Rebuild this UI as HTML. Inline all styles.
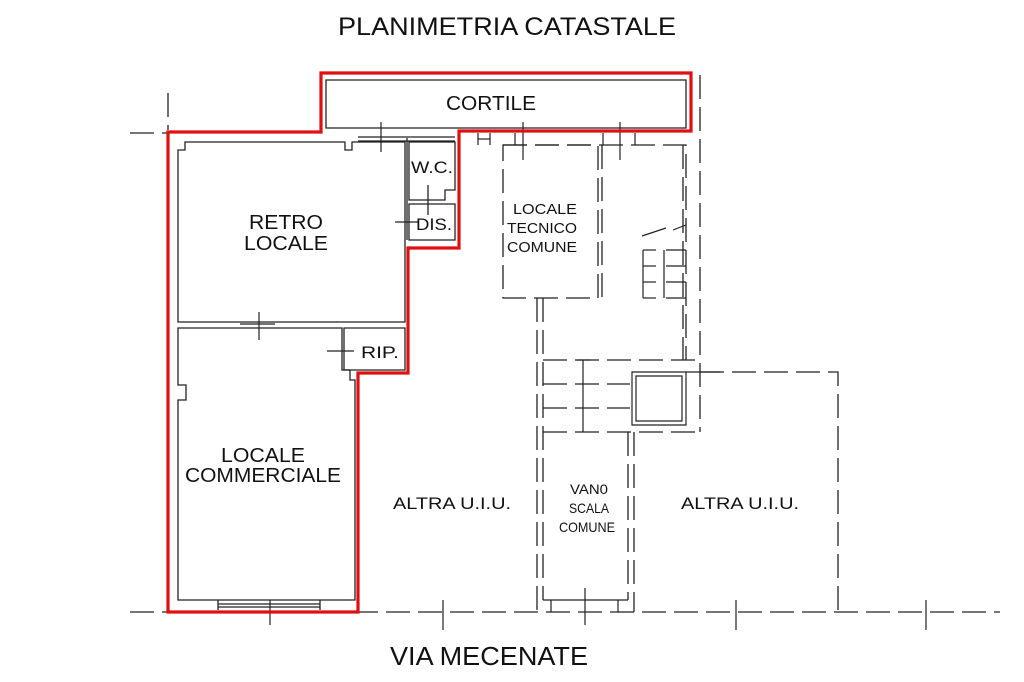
<!DOCTYPE html>
<html><head><meta charset="utf-8"><style>
html,body{margin:0;padding:0;background:#fff;}
svg{display:block;}
text{font-family:"Liberation Sans",sans-serif;fill:#111;}
</style></head><body>
<svg width="1024" height="682" viewBox="0 0 1024 682" xmlns="http://www.w3.org/2000/svg">
<g fill="none" stroke="#222" stroke-width="1.3">
<g stroke-dasharray="24,8">
<line x1="130" y1="612" x2="1000" y2="612"/>
<line x1="130" y1="133" x2="167" y2="133"/>
<line x1="168" y1="93" x2="168" y2="130"/>
<line x1="700" y1="75" x2="700" y2="432"/>
<path d="M503 145 H598 V298 H503 Z"/>
<line x1="602" y1="145" x2="602" y2="298"/>
<path d="M503 145 H686 V360"/>
<line x1="537" y1="298" x2="537" y2="612"/>
<line x1="543" y1="298" x2="543" y2="600"/>
<line x1="683" y1="145" x2="683" y2="360"/>
<line x1="543" y1="360" x2="700" y2="360"/>
<line x1="543" y1="384" x2="630" y2="384"/>
<line x1="543" y1="408" x2="630" y2="408"/>
<line x1="543" y1="432" x2="700" y2="432"/>
<line x1="628" y1="432" x2="628" y2="600"/>
<line x1="634" y1="432" x2="634" y2="612"/>
<path d="M700 372 H838 V612"/>
</g>
<g stroke-width="1.2">
<path d="M632 372 H686 V425 H632 Z"/>
<path d="M636 376 H682 V421 H636 Z"/>
<line x1="583" y1="360" x2="583" y2="432"/>
<line x1="577" y1="360" x2="590" y2="360"/>
<line x1="643" y1="250" x2="643" y2="298"/>
<line x1="643" y1="250" x2="656" y2="250"/>
<line x1="643" y1="266" x2="656" y2="266"/>
<line x1="643" y1="282" x2="656" y2="282"/>
<line x1="643" y1="298" x2="656" y2="298"/>
<line x1="666" y1="250" x2="686" y2="250"/>
<line x1="666" y1="266" x2="686" y2="266"/>
<line x1="666" y1="282" x2="686" y2="282"/>
<line x1="666" y1="298" x2="686" y2="298"/>
<line x1="664" y1="250" x2="664" y2="298"/>
<line x1="642" y1="236" x2="666" y2="228"/>
<line x1="673" y1="230" x2="686" y2="225"/>
<line x1="543" y1="600" x2="628" y2="600"/>
<line x1="551" y1="600" x2="551" y2="612"/>
<line x1="618" y1="600" x2="618" y2="612"/>
</g>
<g stroke-width="1.2">
<line x1="381" y1="122" x2="381" y2="152"/>
<line x1="523" y1="122" x2="523" y2="160"/>
<line x1="620" y1="122" x2="620" y2="160"/>
<line x1="259" y1="312" x2="259" y2="340"/>
<line x1="270" y1="600" x2="270" y2="625"/>
<line x1="443" y1="600" x2="443" y2="630"/>
<line x1="585" y1="588" x2="585" y2="625"/>
<line x1="736" y1="600" x2="736" y2="630"/>
<line x1="926" y1="600" x2="926" y2="630"/>
<line x1="686" y1="372" x2="720" y2="372"/>
<line x1="478" y1="133" x2="478" y2="145"/>
<line x1="490" y1="133" x2="490" y2="145"/>
<line x1="478" y1="139" x2="490" y2="139"/>
<line x1="515" y1="133" x2="515" y2="145"/>
<line x1="603" y1="133" x2="603" y2="145"/>
<line x1="635" y1="133" x2="635" y2="145"/>
</g>
<g stroke-width="1.3">
<path d="M326 80 H686 V128 H326 Z"/>
<path d="M178 150 H185 V142 H345 V150 H352 V142 H405 V322 H178 Z"/>
<path d="M178 328 H342 V370 H350 V380 H355 V600 H178 V400 H186 V385 H178 Z"/>
<path d="M344 328 H405 V370 H344 Z"/>
<path d="M409 142 H455 V190 H445 V200 H409 Z"/>
<path d="M409 204 H455 V240 H409 Z"/>
<line x1="358" y1="137" x2="455" y2="137"/>
<line x1="358" y1="141" x2="455" y2="141"/>
<line x1="218" y1="600" x2="218" y2="610"/>
<line x1="320" y1="600" x2="320" y2="610"/>
<line x1="218" y1="604" x2="320" y2="604"/>
<line x1="218" y1="607" x2="320" y2="607"/>
<line x1="240" y1="324" x2="275" y2="324"/>
<line x1="428" y1="185" x2="428" y2="215"/>
<line x1="395" y1="222" x2="418" y2="222"/>
<line x1="327" y1="351" x2="354" y2="351"/>
<line x1="407" y1="138" x2="407" y2="240"/>
</g>
</g>
<path d="M168 612 V132 H321 V73 H691 V131 H459 V248 H408 V373 H358 V612 Z" fill="none" stroke="#e01010" stroke-width="3.2"/>
<text x="507" y="35" font-size="25" text-anchor="middle" textLength="338" lengthAdjust="spacingAndGlyphs">PLANIMETRIA CATASTALE</text>
<text x="489" y="665" font-size="26" text-anchor="middle" textLength="198" lengthAdjust="spacingAndGlyphs">VIA MECENATE</text>
<text x="491" y="110" font-size="20" text-anchor="middle" textLength="90" lengthAdjust="spacingAndGlyphs">CORTILE</text>
<text x="286" y="229" font-size="20" text-anchor="middle" textLength="74" lengthAdjust="spacingAndGlyphs">RETRO</text>
<text x="286" y="250" font-size="20" text-anchor="middle" textLength="84" lengthAdjust="spacingAndGlyphs">LOCALE</text>
<text x="432" y="173" font-size="17" text-anchor="middle" textLength="42" lengthAdjust="spacingAndGlyphs">W.C.</text>
<text x="434" y="230" font-size="17" text-anchor="middle" textLength="36" lengthAdjust="spacingAndGlyphs">DIS.</text>
<text x="380" y="358" font-size="17" text-anchor="middle" textLength="38" lengthAdjust="spacingAndGlyphs">RIP.</text>
<text x="263" y="462" font-size="20" text-anchor="middle" textLength="84" lengthAdjust="spacingAndGlyphs">LOCALE</text>
<text x="263" y="482" font-size="20" text-anchor="middle" textLength="156" lengthAdjust="spacingAndGlyphs">COMMERCIALE</text>
<text x="452" y="509" font-size="17" text-anchor="middle" textLength="118" lengthAdjust="spacingAndGlyphs">ALTRA U.I.U.</text>
<text x="740" y="509" font-size="17" text-anchor="middle" textLength="118" lengthAdjust="spacingAndGlyphs">ALTRA U.I.U.</text>
<text x="545" y="214" font-size="15" text-anchor="middle" textLength="64" lengthAdjust="spacingAndGlyphs">LOCALE</text>
<text x="542" y="233" font-size="15" text-anchor="middle" textLength="70" lengthAdjust="spacingAndGlyphs">TECNICO</text>
<text x="542" y="252" font-size="15" text-anchor="middle" textLength="70" lengthAdjust="spacingAndGlyphs">COMUNE</text>
<text x="589" y="494" font-size="14" text-anchor="middle" textLength="38" lengthAdjust="spacingAndGlyphs">VAN0</text>
<text x="589" y="513" font-size="14" text-anchor="middle" textLength="40" lengthAdjust="spacingAndGlyphs">SCALA</text>
<text x="587" y="532" font-size="14" text-anchor="middle" textLength="56" lengthAdjust="spacingAndGlyphs">COMUNE</text>
</svg>
</body></html>
